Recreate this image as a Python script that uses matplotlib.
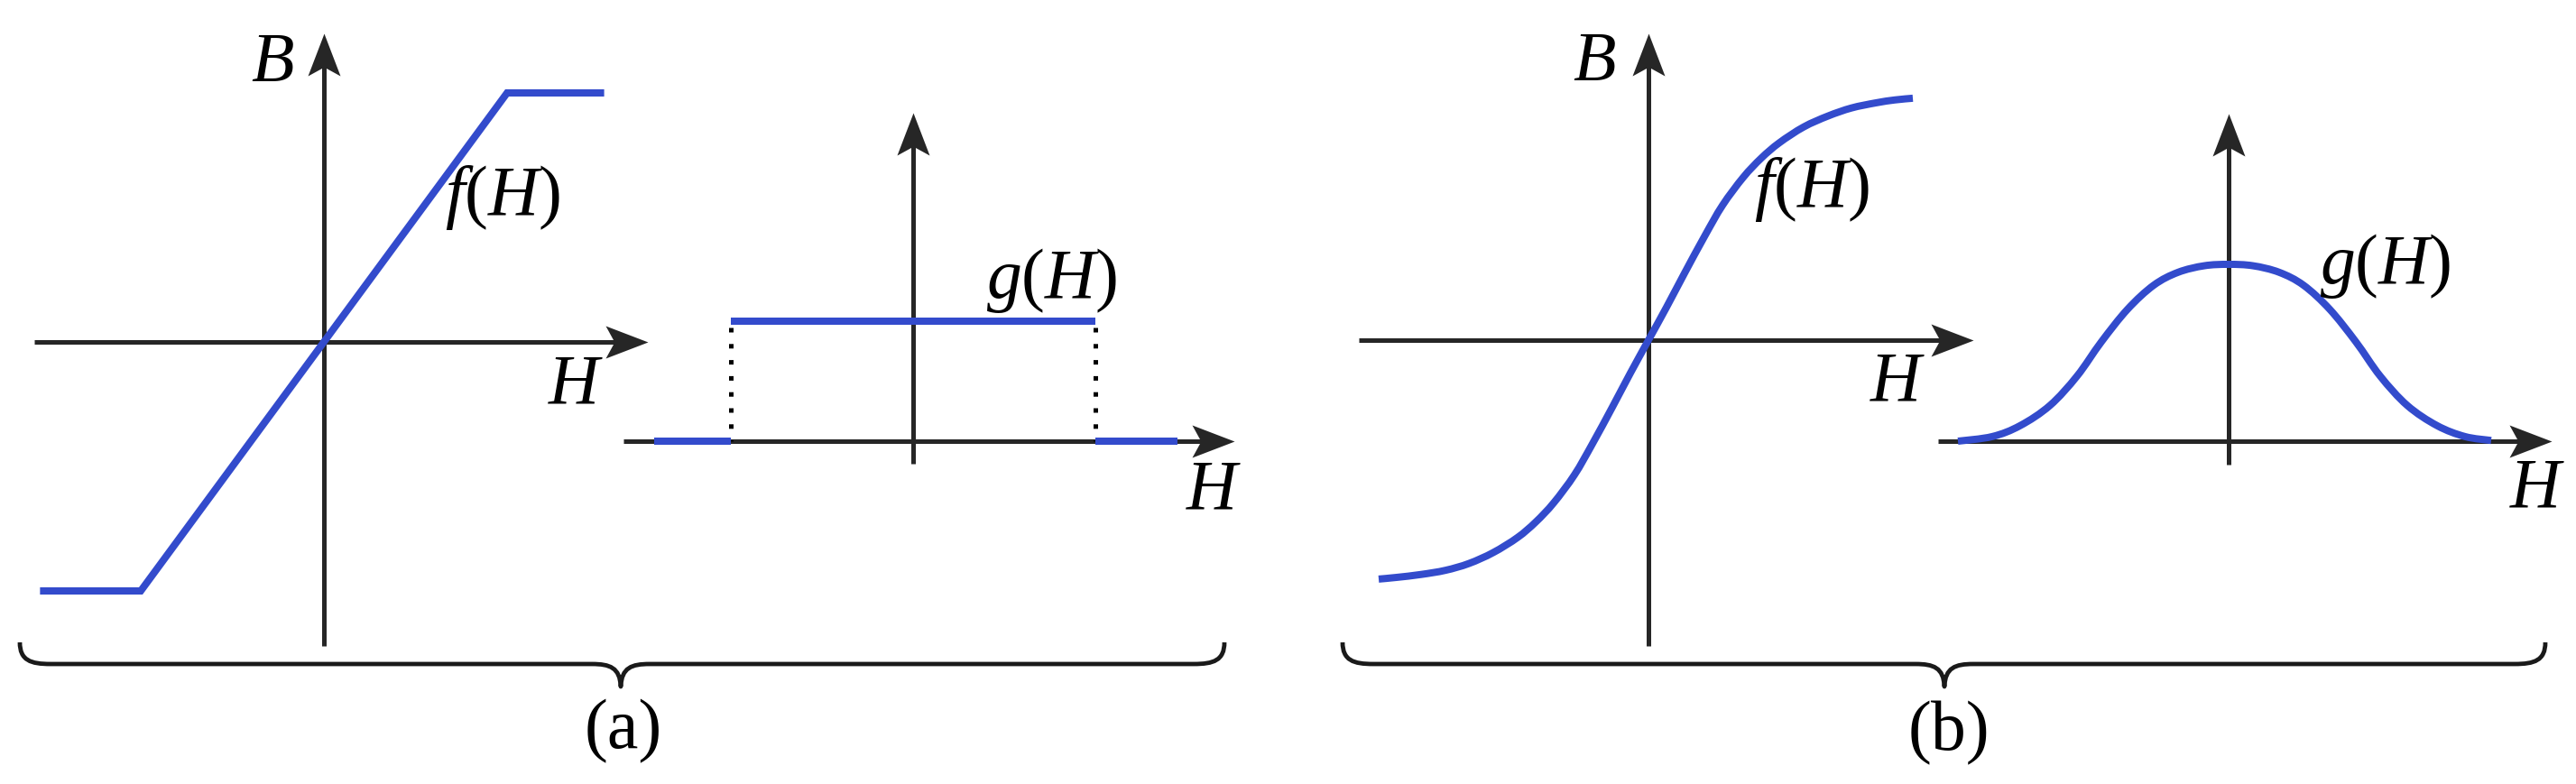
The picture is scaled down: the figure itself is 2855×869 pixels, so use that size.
import matplotlib
matplotlib.use("Agg")
import matplotlib.pyplot as plt
from matplotlib.path import Path
from matplotlib.patches import PathPatch

plt.rcParams["mathtext.fontset"] = "custom"
plt.rcParams["mathtext.rm"] = "Liberation Serif"
plt.rcParams["mathtext.it"] = "Liberation Serif:italic"
plt.rcParams["font.family"] = ["Liberation Serif", "DejaVu Serif"]

# ---------------- data ----------------
# (a) piecewise-linear f(H) with saturation
fa_H = [-1.55, -1.0, 1.0, 1.53]
fa_B = [-1.0, -1.0, 1.0, 1.0]
# (a) rectangular g(H)
ga_left_H = [-1.42, -1.0]
ga_left_g = [0.0, 0.0]
ga_mid_H = [-1.0, 1.0]
ga_mid_g = [1.0, 1.0]
ga_right_H = [1.0, 1.45]
ga_right_g = [0.0, 0.0]
ga_jumps = [-1.0, 1.0]
# (b) smooth sigmoid f(H)
fb_H = [-1.495, -1.395, -1.26, -1.125, -0.995, -0.86, -0.725, -0.625, -0.525,
        -0.41, -0.31, -0.20, -0.10, 0.0, 0.10, 0.20, 0.31, 0.41, 0.525, 0.625,
        0.725, 0.86, 0.995, 1.125, 1.26, 1.365, 1.465]
fb_B = [-0.981, -0.974, -0.962, -0.945, -0.917, -0.872, -0.810, -0.747, -0.668,
        -0.553, -0.425, -0.275, -0.135, 0.0, 0.135, 0.275, 0.425, 0.553, 0.668,
        0.747, 0.810, 0.875, 0.920, 0.953, 0.974, 0.986, 0.993]
# (b) bell-shaped g(H)
gb_H = [-1.50, -1.31, -1.155, -0.99, -0.84, -0.705, -0.56, -0.415, -0.28, -0.135,
        0.0, 0.135, 0.28, 0.415, 0.56, 0.705, 0.84, 0.99, 1.155, 1.31, 1.455]
gb_g = [0.0, 0.026, 0.088, 0.202, 0.368, 0.562, 0.746, 0.882, 0.955, 0.992,
        1.0, 0.992, 0.955, 0.882, 0.746, 0.562, 0.368, 0.202, 0.088, 0.026, 0.004]

# ---------------- layout ----------------
W, HH, DPI = 2855, 870, 100
PT = 72.0 / DPI
BLUE = "#334bcc"
AXC = "#262626"
FS = 56
LW = 8 * PT

fig = plt.figure(figsize=(W / DPI, HH / DPI), dpi=DPI)
fig.patch.set_facecolor("white")

def panel(origin, scale):
    ox, oy = origin
    sx, sy = scale
    ax = fig.add_axes([0, 0, 1, 1])
    ax.set_xlim(-ox / sx, (W - ox) / sx)
    ax.set_ylim((oy - HH) / sy, oy / sy)
    ax.axis("off")
    ax.patch.set_alpha(0)
    return ax

HEAD_R = Path([(0, 0), (-2, 0.766), (-1.58, 0), (-2, -0.766), (0, 0)],
              [Path.MOVETO, Path.LINETO, Path.LINETO, Path.LINETO, Path.CLOSEPOLY])
HEAD_U = Path([(0, 0), (-0.766, -2), (0, -1.58), (0.766, -2), (0, 0)],
              [Path.MOVETO, Path.LINETO, Path.LINETO, Path.LINETO, Path.CLOSEPOLY])

def draw_axes(ax, xr, yr):
    inv = ax.transData.inverted()
    tip = ax.transData.transform((xr[1], 0))
    end = inv.transform((tip[0] - 25, tip[1]))
    ax.plot([xr[0], end[0]], [0, 0], color=AXC, lw=5 * PT, solid_capstyle="butt", zorder=2)
    ax.plot([xr[1]], [0], marker=HEAD_R, ms=94 * PT, color=AXC, mew=0, zorder=2.5)
    tip = ax.transData.transform((0, yr[1]))
    end = inv.transform((tip[0], tip[1] - 25))
    ax.plot([0, 0], [yr[0], end[1]], color=AXC, lw=5 * PT, solid_capstyle="butt", zorder=2)
    ax.plot([0], [yr[1]], marker=HEAD_U, ms=94 * PT, color=AXC, mew=0, zorder=2.5)

def smooth_curve(ax, xs, ys, **kw):
    """Draw a smooth Bezier path passing through the read points."""
    pts = list(zip(xs, ys))
    n = len(pts)
    verts = [pts[0]]
    codes = [Path.MOVETO]
    for i in range(n - 1):
        p0 = pts[i - 1] if i > 0 else pts[i]
        p1 = pts[i]
        p2 = pts[i + 1]
        p3 = pts[i + 2] if i + 2 < n else pts[i + 1]
        c1 = (p1[0] + (p2[0] - p0[0]) / 6.0, p1[1] + (p2[1] - p0[1]) / 6.0)
        c2 = (p2[0] - (p3[0] - p1[0]) / 6.0, p2[1] - (p3[1] - p1[1]) / 6.0)
        verts += [c1, c2, p2]
        codes += [Path.CURVE4] * 3
    ax.add_patch(PathPatch(Path(verts, codes), fill=False, **kw))

def label(ax, x, y, s):
    ax.text(x, y, s, fontsize=FS, ha="center", va="center", color="black")

# ---- (a) left: f(H) ----
ax1 = panel((359, 380), (203, 276))
draw_axes(ax1, (-1.58, 1.77), (-1.22, 1.24))
ax1.plot(fa_H, fa_B, color=BLUE, lw=LW, solid_capstyle="butt", solid_joinstyle="miter", zorder=3)
label(ax1, -0.28, 1.12, r"$B$")
label(ax1, 1.374, -0.174, r"$H$")
label(ax1, 0.975, 0.583, r"$f(H)$")

# ---- (a) right: g(H) ----
ax2 = panel((1012, 490), (202, 133))
draw_axes(ax2, (-1.59, 1.762), (-0.188, 2.737))
for xs, ys in [(ga_left_H, ga_left_g), (ga_mid_H, ga_mid_g), (ga_right_H, ga_right_g)]:
    ax2.plot(xs, ys, color=BLUE, lw=LW, solid_capstyle="butt", zorder=3)
for xj in ga_jumps:
    ax2.plot([xj, xj], [0.947, 0.0], color="black", lw=5 * PT,
             linestyle=(0, (1, 2.56)), dash_capstyle="butt", zorder=2.8)
label(ax2, 0.762, 1.346, r"$g(H)$")
label(ax2, 1.65, -0.41, r"$H$")

# ---- (b) left: f(H) ----
ax3 = panel((1827, 378), (200, 270))
draw_axes(ax3, (-1.605, 1.80), (-1.256, 1.259))
smooth_curve(ax3, fb_H, fb_B, ec=BLUE, lw=LW, capstyle="butt", joinstyle="round", zorder=3)
label(ax3, -0.30, 1.14, r"$B$")
label(ax3, 1.38, -0.174, r"$H$")
label(ax3, 0.905, 0.622, r"$f(H)$")

# ---- (b) right: g(H) ----
ax4 = panel((2470, 490), (200, 196))
draw_axes(ax4, (-1.61, 1.79), (-0.133, 1.852))
smooth_curve(ax4, gb_H, gb_g, ec=BLUE, lw=LW, capstyle="butt", joinstyle="round", zorder=3)
label(ax4, 0.87, 0.995, r"$g(H)$")
label(ax4, 1.71, -0.27, r"$H$")

# ---- braces and captions (pixel overlay) ----
axo = fig.add_axes([0, 0, 1, 1])
axo.set_xlim(0, W)
axo.set_ylim(HH, 0)
axo.axis("off")
axo.patch.set_alpha(0)

def brace(x0, x1, xm, y):
    verts = [(x0, y - 24), (x0, y - 4), (x0 + 12, y), (x0 + 34, y),
             (xm - 32, y),
             (xm - 12, y), (xm - 1, y + 4), (xm, y + 25),
             (xm + 1, y + 4), (xm + 12, y), (xm + 32, y),
             (x1 - 34, y),
             (x1 - 12, y), (x1, y - 4), (x1, y - 24)]
    C = Path.CURVE4
    codes = [Path.MOVETO, C, C, C, Path.LINETO, C, C, C, C, C, C, Path.LINETO, C, C, C]
    axo.add_patch(PathPatch(Path(verts, codes), fill=False, ec="#1a1a1a",
                            lw=4.8 * PT, capstyle="butt", joinstyle="round"))

brace(22, 1357, 688, 737)
brace(1488, 2821, 2155, 737)
axo.text(691, 811, "(a)", fontsize=FS, ha="center", va="center", color="black")
axo.text(2160, 813, "(b)", fontsize=FS, ha="center", va="center", color="black")

fig.savefig("out.png", dpi=DPI, facecolor="white")
